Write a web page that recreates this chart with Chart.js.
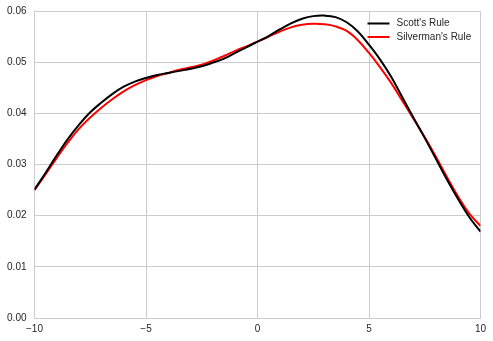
<!DOCTYPE html>
<html>
<head>
<meta charset="utf-8">
<script src="https://cdn.jsdelivr.net/npm/chart.js@4/dist/chart.umd.min.js"></script>
<style>
html,body{margin:0;padding:0;background:#fff;}
#wrap{width:493px;height:341px;position:relative;}
</style>
</head>
<body>
<div id="wrap"><canvas id="c" width="493" height="341"></canvas></div>
<script>
const xValues = [-10,-9.5,-9,-8.5,-8,-7.5,-7,-6.5,-6,-5.5,-5,-4.5,-4,-3.5,-3,-2.5,-2,-1.5,-1,-0.5,0,0.5,1,1.5,2,2.5,3,3.5,4,4.5,5,5.5,6,6.5,7,7.5,8,8.5,9,9.5,10];
const scottValues = [0.0251,0.0284,0.0318,0.0350,0.0378,0.0402,0.0421,0.0438,0.0452,0.0462,0.0469,0.0475,0.0479,0.0483,0.0487,0.0492,0.0499,0.0507,0.0518,0.0529,0.0540,0.0551,0.0564,0.0576,0.0585,0.0590,0.0591,0.0588,0.0578,0.0560,0.0534,0.0505,0.0471,0.0431,0.0391,0.0352,0.0311,0.0270,0.0232,0.0197,0.0169];
const silvermanValues = [0.0250,0.0281,0.0313,0.0343,0.0370,0.0392,0.0411,0.0428,0.0443,0.0455,0.0465,0.0473,0.0479,0.0485,0.0490,0.0495,0.0503,0.0512,0.0522,0.0531,0.0540,0.0550,0.0560,0.0568,0.0573,0.0575,0.0574,0.0570,0.0561,0.0543,0.0518,0.0490,0.0459,0.0424,0.0389,0.0353,0.0315,0.0275,0.0237,0.0204,0.0180];
const seriesLabels = ["Scott's Rule", "Silverman's Rule"];
const xTicks = [-10,-5,0,5,10];
const yTicks = [0.00,0.01,0.02,0.03,0.04,0.05,0.06];

const toPts = (ys) => xValues.map((x,i)=>({x:x,y:ys[i]}));
const FONT = {family:'"Liberation Sans", Arial, sans-serif', size:10};

const insideLegend = {
  id:'insideLegend',
  afterDraw(chart){
    const ctx = chart.ctx, area = chart.chartArea;
    const x0 = area.right - 113, y0 = area.top + 12.5;
    ctx.save();
    chart.data.datasets.forEach((ds,i)=>{
      const y = y0 + i*13.5;
      ctx.strokeStyle = ds.borderColor; ctx.lineWidth = 2;
      ctx.beginPath(); ctx.moveTo(x0, y); ctx.lineTo(x0+22, y); ctx.stroke();
      ctx.fillStyle = '#262626';
      ctx.font = '10px "Liberation Sans", Arial, sans-serif';
      ctx.textBaseline = 'middle'; ctx.textAlign = 'left';
      ctx.fillText(ds.label, x0+29, y);
    });
    ctx.restore();
  }
};

new Chart(document.getElementById('c'), {
  type:'line',
  data:{datasets:[
    {label:seriesLabels[0], data:toPts(scottValues), borderColor:'#000000', borderWidth:2, pointRadius:0, tension:0.4, fill:false},
    {label:seriesLabels[1], data:toPts(silvermanValues), borderColor:'#ff0000', borderWidth:2, pointRadius:0, tension:0.4, fill:false}
  ]},
  options:{
    responsive:false, animation:false, devicePixelRatio:1,
    layout:{padding:{top:11,right:12.5,left:0,bottom:0}},
    plugins:{legend:{display:false}, tooltip:{enabled:false}},
    scales:{
      x:{type:'linear', min:-10, max:10,
        afterBuildTicks(s){ s.ticks = xTicks.map(v=>({value:v})); },
        afterFit(s){ s.height = 23; s.paddingLeft = 0; s.paddingRight = 0; },
        grid:{color:'#cccccc', lineWidth:1, drawTicks:false},
        border:{display:true, color:'#cccccc'},
        ticks:{padding:5, color:'#262626', font:FONT, maxRotation:0,
          callback:(v)=>String(v).replace('-','\u2212')}
      },
      y:{type:'linear', min:0, max:0.06,
        afterBuildTicks(s){ s.ticks = yTicks.map(v=>({value:v})); },
        afterFit(s){ s.width = 34.5; s.paddingTop = 0; s.paddingBottom = 0; },
        grid:{color:'#cccccc', lineWidth:1, drawTicks:false},
        border:{display:true, color:'#cccccc'},
        ticks:{padding:8, color:'#262626', font:FONT, callback:(v)=>v.toFixed(2)}
      }
    }
  },
  plugins:[insideLegend]
});
</script>
</body>
</html>
